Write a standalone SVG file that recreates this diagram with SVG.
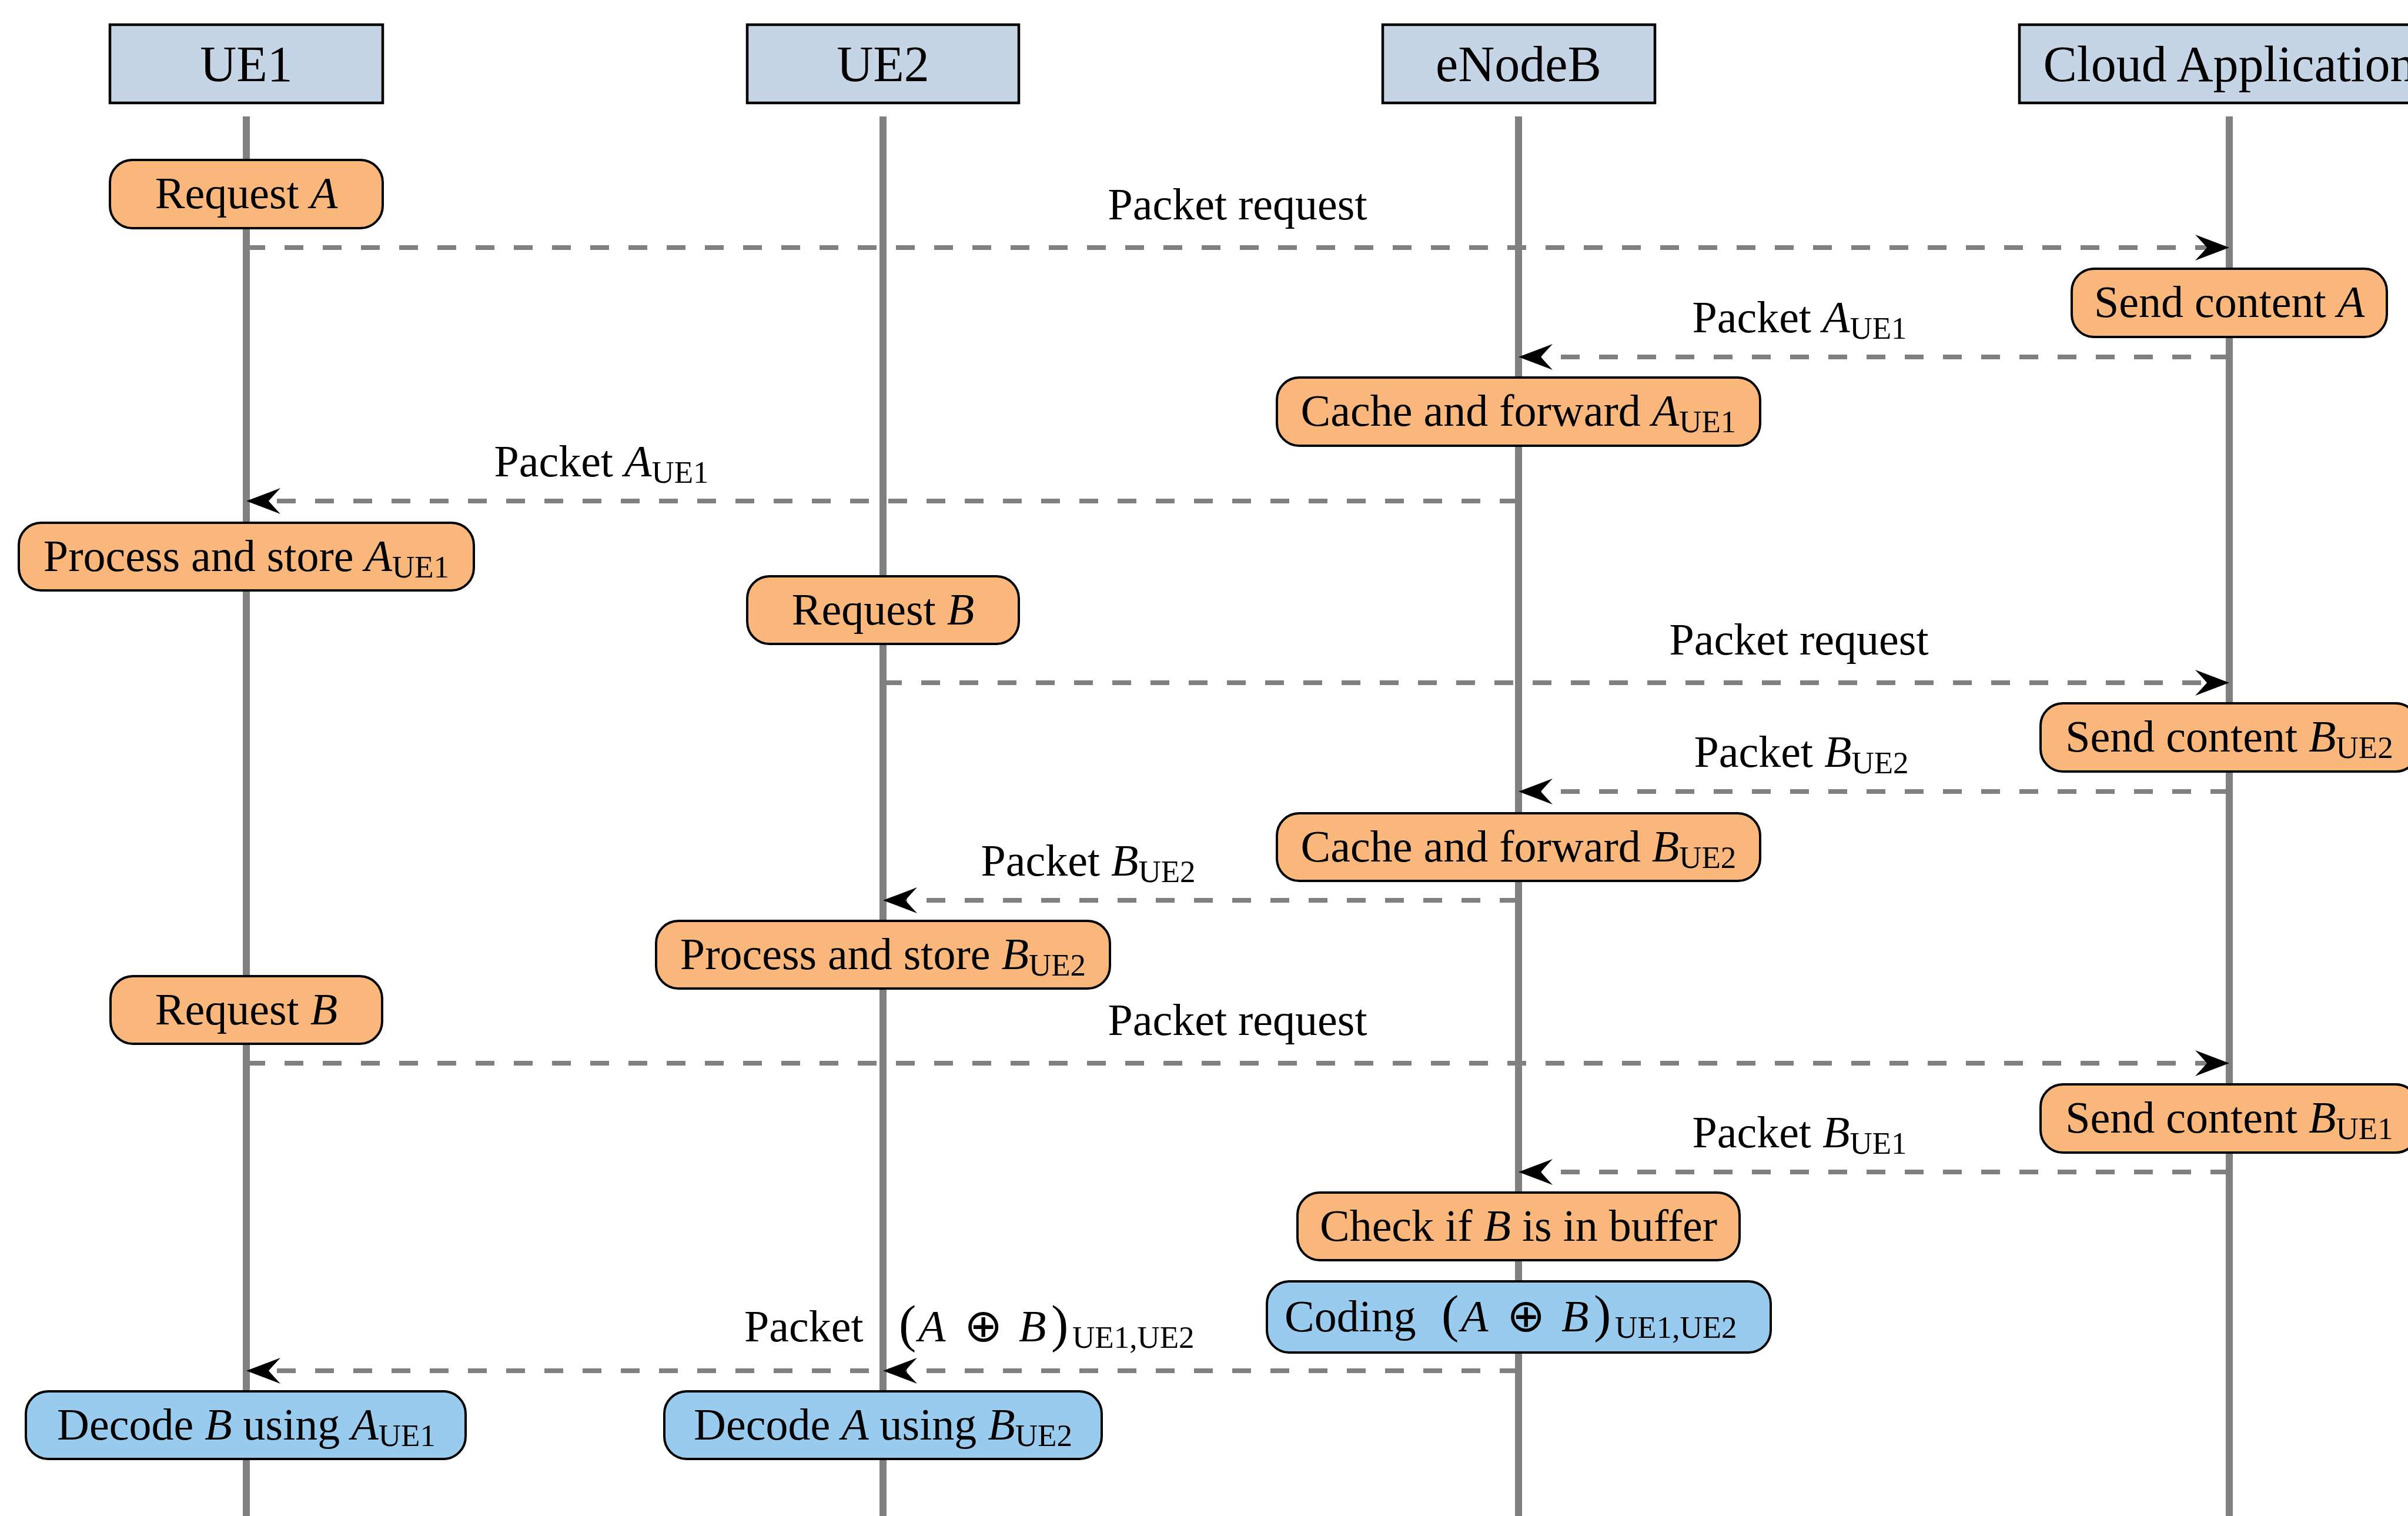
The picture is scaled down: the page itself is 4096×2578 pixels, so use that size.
<svg xmlns="http://www.w3.org/2000/svg" width="4096" height="2578" viewBox="0 0 4096 2578">
<style>
text { font-family: "Liberation Serif", "Times New Roman", serif; font-size: 76px; fill: #000; }
.ht { font-size: 86px; }
.m { font-style: italic; }
.s { font-size: 53px; font-style: normal; }
.p { font-size: 88px; }
.op { font-family: "DejaVu Sans", sans-serif; font-size: 78px; }
.hdr { fill: #c6d5e5; stroke: #000; stroke-width: 4.5; }
.life { stroke: #808080; stroke-width: 12; fill: none; }
.act { fill: #f9b77c; stroke: #000; stroke-width: 4; }
.cod { fill: #99cbee; stroke: #000; stroke-width: 4; }
.msg { stroke: #808080; stroke-width: 8; stroke-dasharray: 32 33; fill: none; marker-end: url(#ah); }
</style>
<defs>
<marker id="ah" markerUnits="userSpaceOnUse" viewBox="-62 -25 64 50" refX="-20" refY="0" markerWidth="64" markerHeight="50" orient="auto">
<path d="M0,0 L-58,-22 Q-44,-7 -38,0 Q-44,7 -58,22 Z" fill="#000"/>
</marker>
</defs>
<rect width="4096" height="2578" fill="#fff"/>

<g id="UE1">
<line class="life" x1="419" y1="198" x2="419" y2="2578"/>
<rect class="hdr" x="187" y="42" width="464" height="133"/>
<text class="ht" x="419" y="138" text-anchor="middle">UE1</text>
</g>
<g id="UE2">
<line class="life" x1="1502" y1="198" x2="1502" y2="2578"/>
<rect class="hdr" x="1271" y="42" width="462" height="133"/>
<text class="ht" x="1502" y="138" text-anchor="middle">UE2</text>
</g>
<g id="eNodeB">
<line class="life" x1="2583" y1="198" x2="2583" y2="2578"/>
<rect class="hdr" x="2352" y="42" width="463" height="133"/>
<text class="ht" x="2583" y="138" text-anchor="middle">eNodeB</text>
</g>
<g id="Cloud">
<line class="life" x1="3792" y1="198" x2="3792" y2="2578"/>
<rect class="hdr" x="3435" y="42" width="716" height="133"/>
<text class="ht" x="3792" y="138" text-anchor="middle">Cloud Application</text>
</g>

<g id="connectors">
<path class="msg" d="M419,421 H3772"/>
<text x="2105" y="373" text-anchor="middle">Packet request</text>
<path class="msg" d="M3792,607 H2603"/>
<text x="3061" y="565" text-anchor="middle">Packet <tspan class="m">A</tspan><tspan class="s" dy="11">UE1</tspan></text>
<path class="msg" d="M2583,852 H439"/>
<text x="1023" y="810" text-anchor="middle">Packet <tspan class="m">A</tspan><tspan class="s" dy="11">UE1</tspan></text>
<path class="msg" d="M1502,1161 H3772"/>
<text x="3060" y="1113" text-anchor="middle">Packet request</text>
<path class="msg" d="M3792,1346 H2603"/>
<text x="3064" y="1304" text-anchor="middle">Packet <tspan class="m">B</tspan><tspan class="s" dy="11">UE2</tspan></text>
<path class="msg" d="M2583,1531 H1522"/>
<text x="1851" y="1489" text-anchor="middle">Packet <tspan class="m">B</tspan><tspan class="s" dy="11">UE2</tspan></text>
<path class="msg" d="M419,1808 H3772"/>
<text x="2105" y="1760" text-anchor="middle">Packet request</text>
<path class="msg" d="M3792,1993 H2603"/>
<text x="3061" y="1951" text-anchor="middle">Packet <tspan class="m">B</tspan><tspan class="s" dy="11">UE1</tspan></text>
<path class="msg" d="M2583,2331 H439"/>
<path class="msg" d="M2583,2331 H1522"/>
<text y="2281"><tspan x="1266">Packet</tspan><tspan class="p" x="1529">(</tspan><tspan class="m" x="1562">A</tspan><tspan class="op" x="1640">⊕</tspan><tspan class="m" x="1733">B</tspan><tspan class="p" x="1788">)</tspan><tspan class="s" x="1824" dy="11">UE1,UE2</tspan></text>
</g>

<g id="n1">
<rect class="act" x="187" y="272" width="464" height="116" rx="38"/>
<text x="419" y="354" text-anchor="middle">Request <tspan class="m">A</tspan></text>
</g>
<g id="n2">
<rect class="act" x="3524" y="457" width="536" height="116" rx="38"/>
<text x="3792" y="539" text-anchor="middle">Send content <tspan class="m">A</tspan></text>
</g>
<g id="n3">
<rect class="act" x="2172" y="642" width="822" height="116" rx="38"/>
<text x="2583" y="724" text-anchor="middle">Cache and forward <tspan class="m">A</tspan><tspan class="s" dy="11">UE1</tspan></text>
</g>
<g id="n4">
<rect class="act" x="32" y="889" width="774" height="115" rx="38"/>
<text x="419" y="971" text-anchor="middle">Process and store <tspan class="m">A</tspan><tspan class="s" dy="11">UE1</tspan></text>
</g>
<g id="n5">
<rect class="act" x="1271" y="980" width="462" height="115" rx="38"/>
<text x="1502" y="1062" text-anchor="middle">Request <tspan class="m">B</tspan></text>
</g>
<g id="n6">
<rect class="act" x="3471" y="1196" width="642" height="116" rx="38"/>
<text x="3792" y="1278" text-anchor="middle">Send content <tspan class="m">B</tspan><tspan class="s" dy="11">UE2</tspan></text>
</g>
<g id="n7">
<rect class="act" x="2172" y="1383" width="822" height="115" rx="38"/>
<text x="2583" y="1465" text-anchor="middle">Cache and forward <tspan class="m">B</tspan><tspan class="s" dy="11">UE2</tspan></text>
</g>
<g id="n8">
<rect class="act" x="1116" y="1566" width="772" height="115" rx="38"/>
<text x="1502" y="1648" text-anchor="middle">Process and store <tspan class="m">B</tspan><tspan class="s" dy="11">UE2</tspan></text>
</g>
<g id="n9">
<rect class="act" x="188" y="1660" width="462" height="115" rx="38"/>
<text x="419" y="1742" text-anchor="middle">Request <tspan class="m">B</tspan></text>
</g>
<g id="n10">
<rect class="act" x="3471" y="1844" width="642" height="116" rx="38"/>
<text x="3792" y="1926" text-anchor="middle">Send content <tspan class="m">B</tspan><tspan class="s" dy="11">UE1</tspan></text>
</g>
<g id="n11">
<rect class="act" x="2207" y="2028" width="752" height="115" rx="38"/>
<text x="2583" y="2110" text-anchor="middle">Check if <tspan class="m">B</tspan> is in buffer</text>
</g>
<g id="n12">
<rect class="cod" x="2155" y="2179" width="857" height="121" rx="38"/>
<text y="2264"><tspan x="2185">Coding</tspan><tspan class="p" x="2452">(</tspan><tspan class="m" x="2485">A</tspan><tspan class="op" x="2563">⊕</tspan><tspan class="m" x="2656">B</tspan><tspan class="p" x="2711">)</tspan><tspan class="s" x="2747" dy="11">UE1,UE2</tspan></text>
</g>
<g id="n13">
<rect class="cod" x="44" y="2366" width="748" height="115" rx="38"/>
<text x="419" y="2448" text-anchor="middle">Decode <tspan class="m">B</tspan> using <tspan class="m">A</tspan><tspan class="s" dy="11">UE1</tspan></text>
</g>
<g id="n14">
<rect class="cod" x="1130" y="2366" width="744" height="115" rx="38"/>
<text x="1502" y="2448" text-anchor="middle">Decode <tspan class="m">A</tspan> using <tspan class="m">B</tspan><tspan class="s" dy="11">UE2</tspan></text>
</g>
</svg>
